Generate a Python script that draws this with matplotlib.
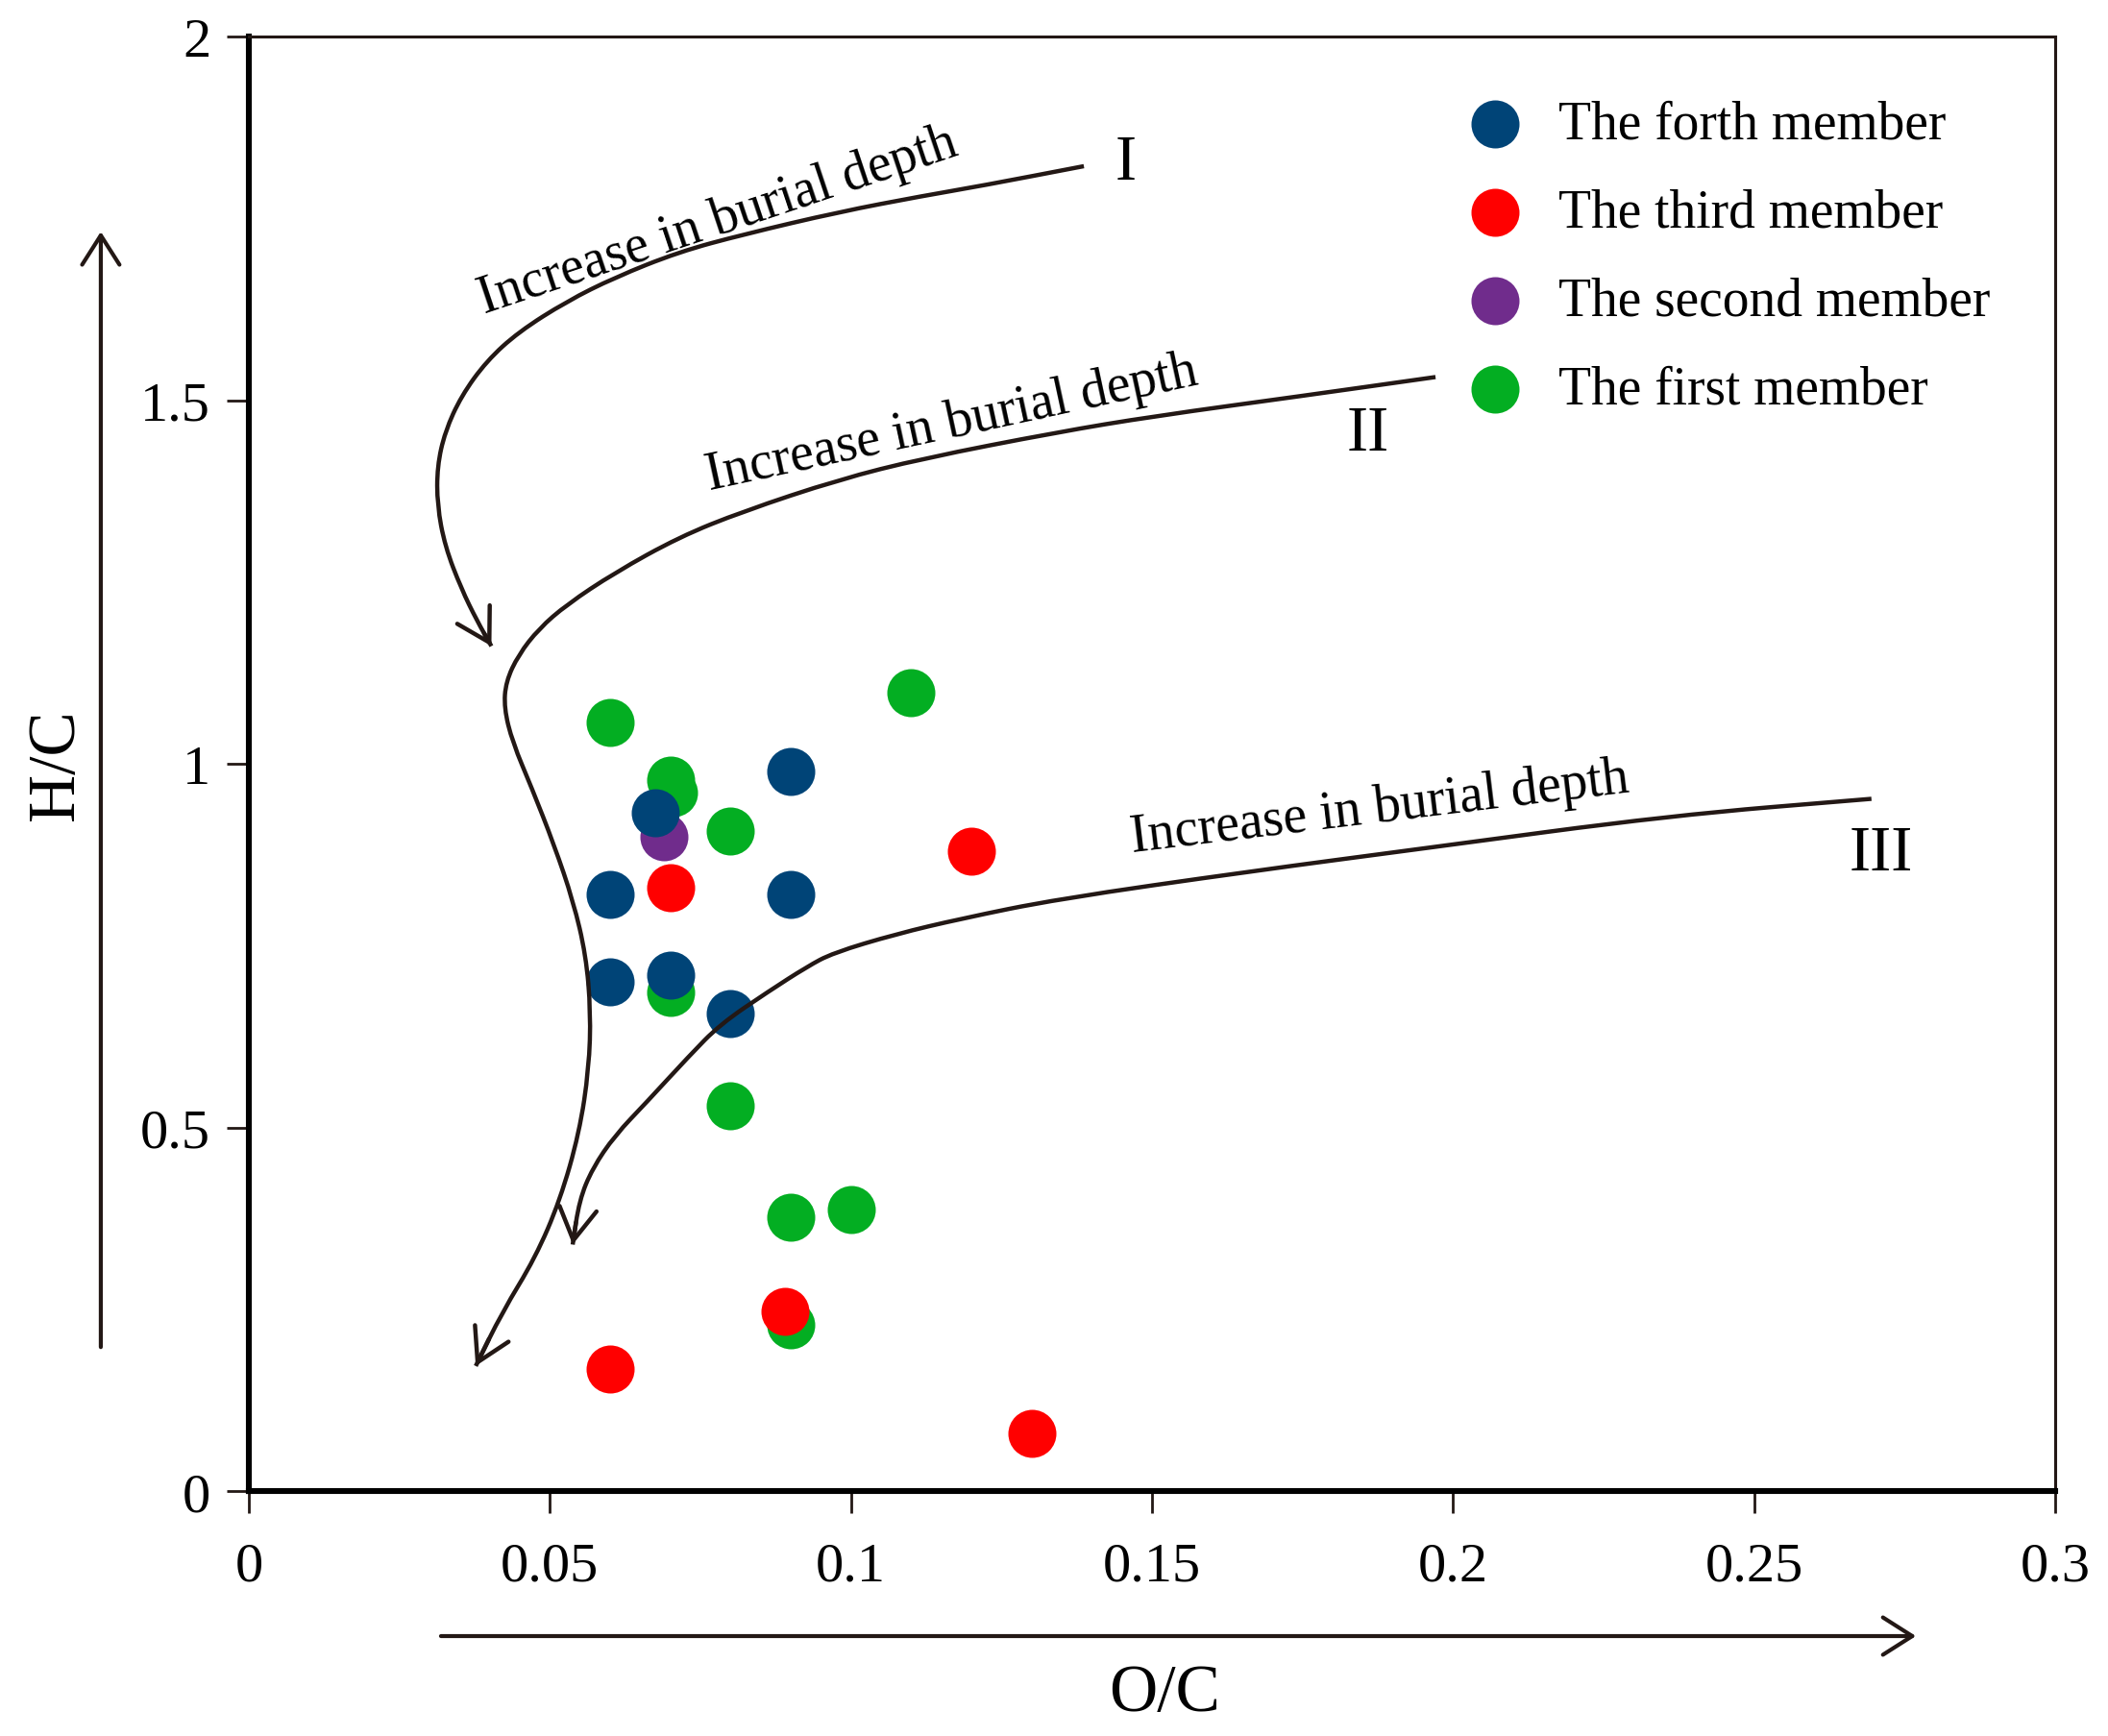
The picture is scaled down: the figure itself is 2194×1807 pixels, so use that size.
import matplotlib
matplotlib.use("Agg")
import matplotlib.pyplot as plt
from matplotlib.path import Path
from matplotlib.patches import PathPatch

plt.rcParams['font.family'] = 'serif'
plt.rcParams['font.serif'] = ['Liberation Serif', 'DejaVu Serif']

# sample points (O/C, H/C) per member
forth_x = [0.09, 0.0675, 0.06, 0.09, 0.06, 0.07, 0.08]
forth_y = [0.99, 0.933, 0.82, 0.82, 0.70, 0.71, 0.657]
third_x = [0.07, 0.12, 0.089, 0.06, 0.13]
third_y = [0.83, 0.88, 0.247, 0.168, 0.079]
second_x = [0.069]
second_y = [0.90]
first_x = [0.06, 0.07, 0.0705, 0.08, 0.11, 0.07, 0.08, 0.09, 0.10, 0.09]
first_y = [1.057, 0.978, 0.96, 0.908, 1.098, 0.686, 0.530, 0.377, 0.387, 0.229]

# evolution paths (control points, from the end label towards the arrow tip)
path1_x = [0.1387, 0.1217, 0.1119, 0.0980, 0.0821, 0.0714, 0.0608, 0.0528, 0.0448,
           0.0395, 0.0353, 0.0326, 0.0313, 0.0313, 0.0326, 0.0353, 0.0379, 0.0403]
path1_y = [1.822, 1.795, 1.781, 1.759, 1.728, 1.704, 1.669, 1.636, 1.594,
           1.554, 1.506, 1.457, 1.409, 1.356, 1.299, 1.241, 1.197, 1.162]
path2_x = [0.1971, 0.1749, 0.1502, 0.1342, 0.1119, 0.0980, 0.0820, 0.0715, 0.0608,
           0.0528, 0.0482, 0.0448, 0.0427, 0.0424, 0.0438, 0.0470, 0.0507, 0.0539,
           0.0560, 0.0568, 0.0565, 0.0549, 0.0517, 0.0476, 0.0421, 0.0377]
path2_y = [1.532, 1.506, 1.478, 1.456, 1.420, 1.391, 1.347, 1.312, 1.263,
           1.219, 1.186, 1.150, 1.113, 1.077, 1.030, 0.967, 0.889, 0.811,
           0.737, 0.659, 0.581, 0.493, 0.400, 0.321, 0.246, 0.172]
path3_x = [0.2695, 0.2360, 0.1953, 0.1661, 0.1342, 0.1182, 0.1075, 0.0970, 0.0927,
           0.0863, 0.0783, 0.0731, 0.0661, 0.0608, 0.0571, 0.0549, 0.0538]
path3_y = [0.952, 0.929, 0.884, 0.852, 0.814, 0.787, 0.766, 0.740, 0.721,
           0.687, 0.642, 0.598, 0.535, 0.489, 0.444, 0.400, 0.339]

xticks = [0, 0.05, 0.1, 0.15, 0.2, 0.25, 0.3]
xticklabels = ["0", "0.05", "0.1", "0.15", "0.2", "0.25", "0.3"]
yticks = [0, 0.5, 1, 1.5, 2]
yticklabels = ["0", "0.5", "1", "1.5", "2"]

LINE = '#231815'


def draw_path(ax, xs, ys):
    pts = list(zip(xs, ys))
    mids = [((pts[i][0] + pts[i + 1][0]) / 2, (pts[i][1] + pts[i + 1][1]) / 2)
            for i in range(len(pts) - 1)]
    verts = [pts[0], mids[0]]
    codes = [Path.MOVETO, Path.LINETO]
    for i in range(1, len(pts) - 1):
        verts += [pts[i], mids[i]]
        codes += [Path.CURVE3, Path.CURVE3]
    verts.append(pts[-1])
    codes.append(Path.LINETO)
    ax.add_patch(PathPatch(Path(verts, codes), facecolor='none', edgecolor=LINE,
                           lw=1.6, zorder=5))
    ax.annotate('', xy=pts[-1], xytext=mids[-1],
                arrowprops=dict(arrowstyle='->,head_length=0.6,head_width=0.35',
                                color=LINE, lw=1.6, shrinkA=0, shrinkB=0,
                                mutation_scale=20), zorder=5)


fig = plt.figure(figsize=(10.97, 9.04), dpi=200)
ax = fig.add_axes([0.1180, 0.1410, 0.8569, 0.8373])

s = 324
ax.scatter(first_x, first_y, s=s, color='#03AE22', lw=0, zorder=3, label='The first member')
ax.scatter(second_x, second_y, s=s, color='#702C8C', lw=0, zorder=3, label='The second member')
ax.scatter(third_x, third_y, s=s, color='#FF0000', lw=0, zorder=3, label='The third member')
ax.scatter(forth_x, forth_y, s=s, color='#004477', lw=0, zorder=4, label='The forth member')

draw_path(ax, path1_x, path1_y)
draw_path(ax, path2_x, path2_y)
draw_path(ax, path3_x, path3_y)

txt = dict(fontsize=20, ha='center', va='baseline', rotation_mode='anchor', color='black')
ax.text(0.0787, 1.730, 'Increase in burial depth', rotation=18.5, **txt)
ax.text(0.1172, 1.451, 'Increase in burial depth', rotation=12.2, **txt)
ax.text(0.1881, 0.921, 'Increase in burial depth', rotation=6.9, **txt)
ax.text(0.1457, 1.826, 'I', fontsize=24, ha='center', va='center')
ax.text(0.1859, 1.454, 'II', fontsize=24, ha='center', va='center')
ax.text(0.2711, 0.877, 'III', fontsize=24, ha='center', va='center')

handles, labels = ax.get_legend_handles_labels()
order = [3, 2, 1, 0]
ax.legend([handles[i] for i in order], [labels[i] for i in order],
          loc='upper left', bbox_to_anchor=(0.675, 0.957), frameon=False,
          fontsize=20, handlelength=1.0, handletextpad=0.7, labelspacing=0.72,
          borderpad=0, borderaxespad=0, scatterpoints=1)

ax.set_xlim(0, 0.3)
ax.set_ylim(0, 2)
ax.set_xticks(xticks)
ax.set_xticklabels(xticklabels)
ax.set_yticks(yticks)
ax.set_yticklabels(yticklabels)
ax.tick_params(axis='both', direction='out', length=8.3, width=1.0, labelsize=21,
               color=LINE, top=False, right=False)
ax.tick_params(axis='x', pad=10.5)
ax.tick_params(axis='y', pad=6)
for side in ['left', 'bottom']:
    ax.spines[side].set_linewidth(2.2)
    ax.spines[side].set_color('black')
for side in ['top', 'right']:
    ax.spines[side].set_linewidth(1.1)
    ax.spines[side].set_color(LINE)

# direction arrows outside the frame
arrow = dict(arrowstyle='->,head_length=0.55,head_width=0.35', color=LINE, lw=1.5,
             shrinkA=0, shrinkB=0, mutation_scale=20)
ax.annotate('', xy=(-0.0819, 0.866), xytext=(-0.0819, 0.099),
            xycoords='axes fraction', textcoords='axes fraction',
            arrowprops=arrow, annotation_clip=False)
ax.annotate('', xy=(0.923, -0.0997), xytext=(0.1064, -0.0997),
            xycoords='axes fraction', textcoords='axes fraction',
            arrowprops=arrow, annotation_clip=False)

ax.text(0.507, -0.1396, 'O/C', transform=ax.transAxes, fontsize=25,
        ha='center', va='center')
ax.text(-0.106, 0.5, 'H/C', transform=ax.transAxes, fontsize=25,
        ha='center', va='center', rotation=90)

fig.savefig('out.png', dpi=200, facecolor='white')
